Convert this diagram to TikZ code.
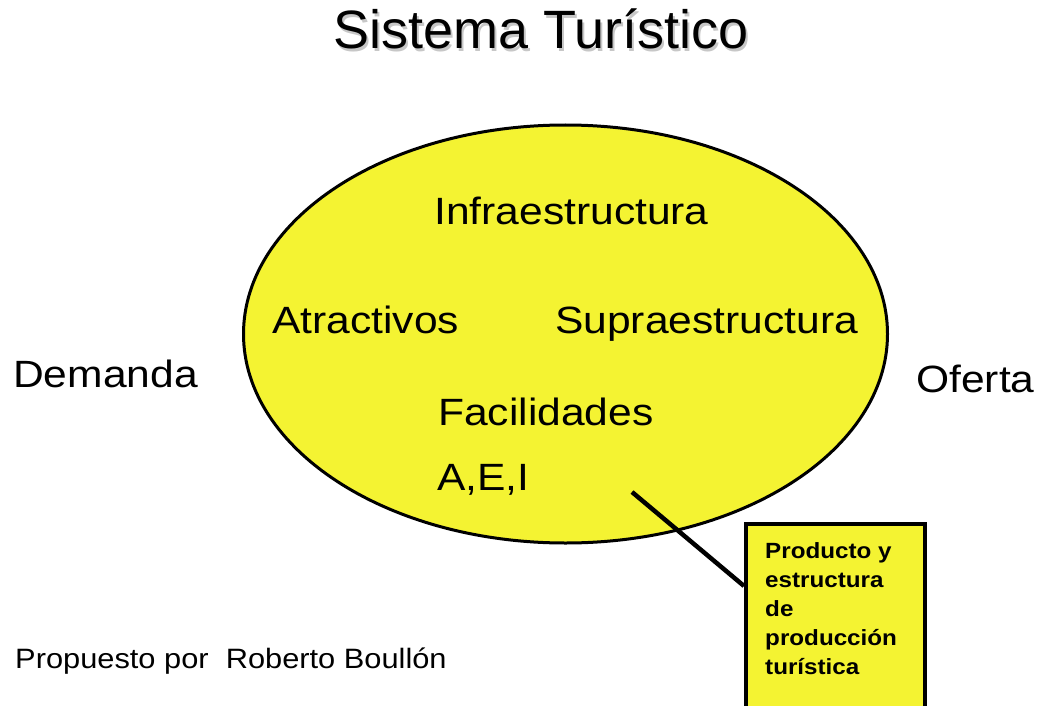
\documentclass[tikz,border=0pt]{standalone}
\usepackage{fontspec}
\setmainfont{Liberation Sans}
\usetikzlibrary{shapes.geometric}
\definecolor{yel}{RGB}{244,243,50}
\begin{document}
\begin{tikzpicture}[x=1pt,y=-1pt,
  lbl/.style={anchor=base west, inner sep=0pt, xscale=1.12, font=\fontsize{38}{44}\selectfont},
  ttl/.style={anchor=base west, inner sep=0pt, font=\fontsize{54}{60}\selectfont},
  note/.style={anchor=base west, inner sep=0pt, xscale=1.1, font=\fontsize{28}{32}\selectfont},
  boxtxt/.style={anchor=base west, inner sep=0pt, xscale=1.1, align=left, font=\fontsize{22}{29}\selectfont\bfseries},
  sysell/.style={ellipse, draw, line width=3pt, fill=yel, minimum width=644pt, minimum height=418pt, inner sep=0pt},
  prodbox/.style={draw, line width=3.5pt, fill=yel, minimum width=179pt, minimum height=210pt, inner sep=0pt, anchor=north west}]
\useasboundingbox (0,0) rectangle (1038,706);
% title with soft shadow
\node[ttl, text=black!22] (tshadow) at (335.5,51.5) {Sistema Turístico};
\node[ttl] (title) at (333,49) {Sistema Turístico};
% ellipse
\node[sysell] (sys) at (565.5,334) {};
\node[lbl] (infra) at (434,224) {Infraestructura};
\node[lbl] (atr) at (272,333) {Atractivos};
\node[lbl] (supra) at (555,333) {Supraestructura};
\node[lbl] (fac) at (438,425) {Facilidades};
\node[lbl] (aei) at (437,490) {A,E,I};
\node[lbl] (dem) at (13,387) {Demanda};
\node[lbl] (ofe) at (916,392) {Oferta};
\node[note] (prop) at (15,668) {Propuesto por\ \ Roberto Boullón};
% product box
\node[prodbox] (box) at (744,522) {};
\node[boxtxt] (prod) at (765,674) {Producto y\\estructura\\de\\producción\\turística};
\coordinate (tip) at (632,492);
\draw[line width=4.5pt] (tip) -- ([yshift=-64pt]box.north west);
\end{tikzpicture}
\end{document}
